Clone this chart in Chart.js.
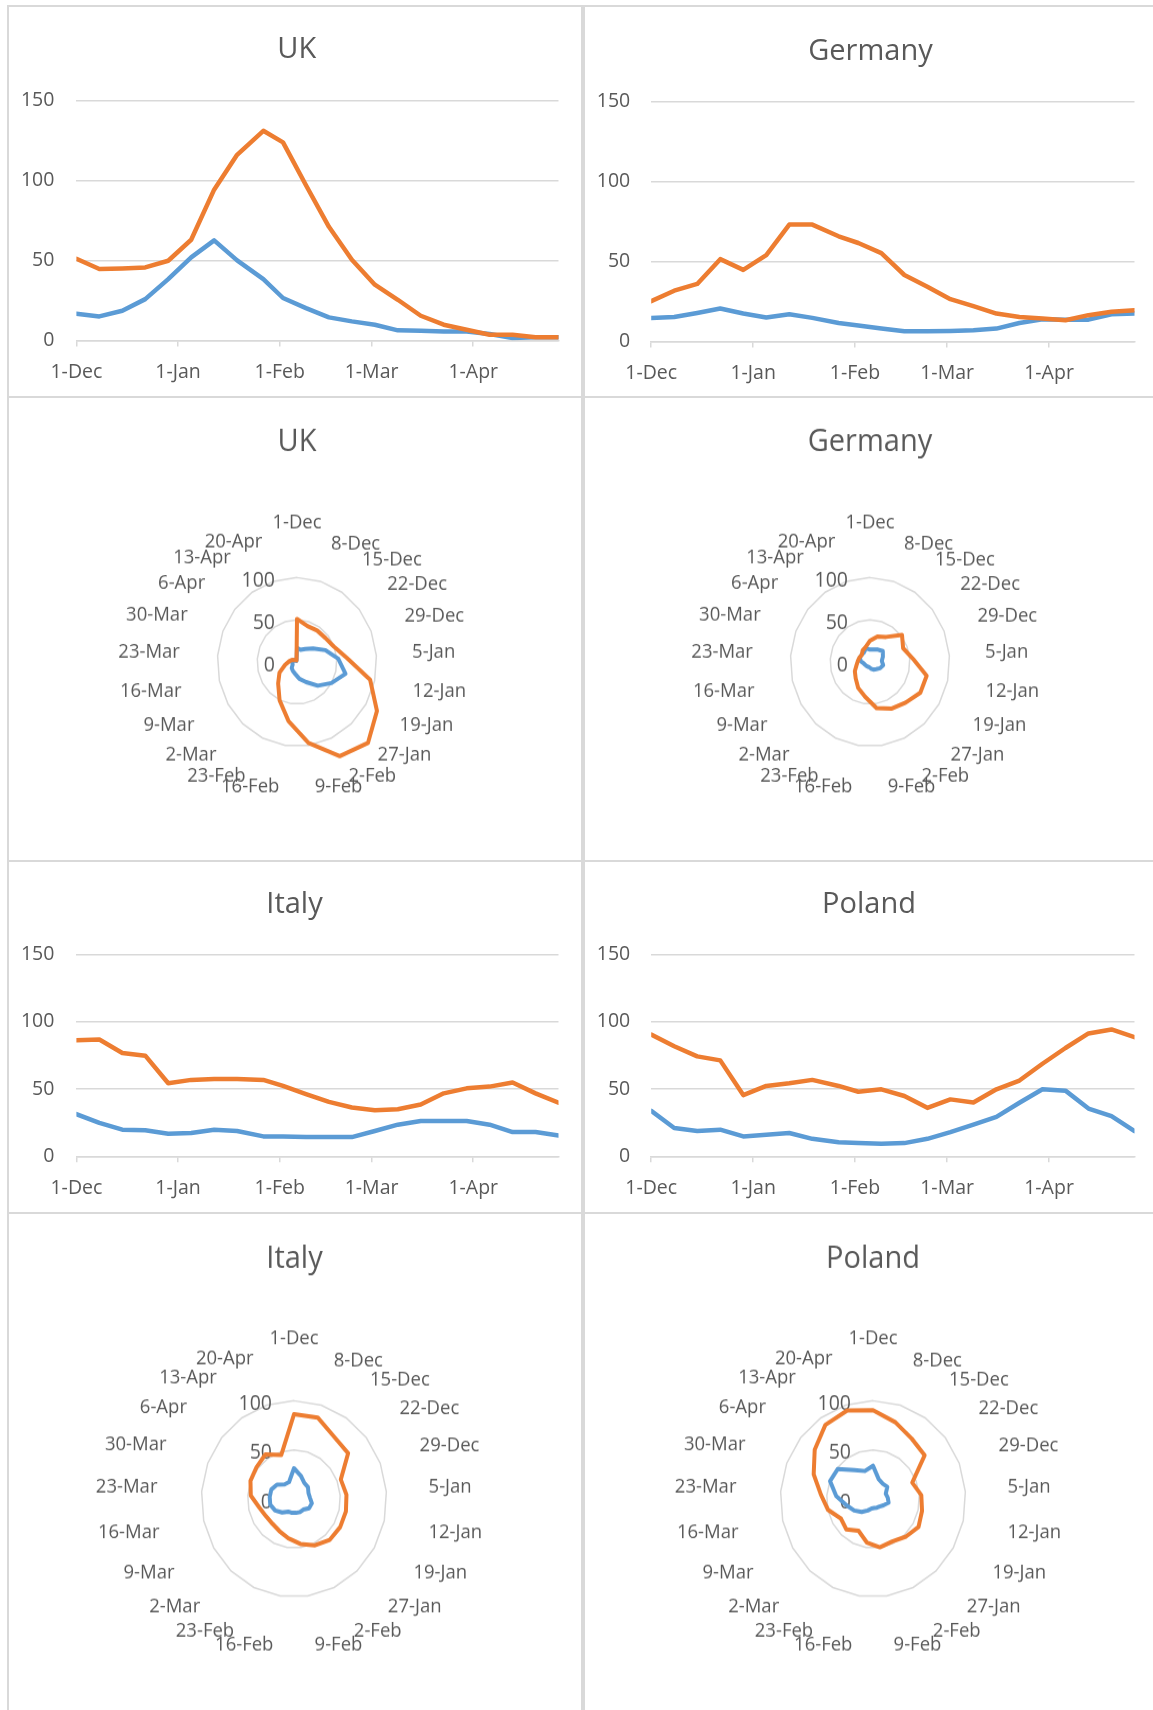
<!DOCTYPE html>
<html>
<head>
<meta charset="utf-8">
<title>UK, Germany, Italy, Poland - weekly lines and radars</title>
<script src="https://cdn.jsdelivr.net/npm/chart.js@4.4.1/dist/chart.umd.min.js"></script>
<style>
  html, body { margin: 0; padding: 0; background: #fff; }
  body { width: 1153px; height: 1710px; position: relative; overflow: hidden; }
  .panel { position: absolute; }
  .panel canvas { position: absolute; left: 0; top: 0; }
  .panel .frame { position: absolute; left: 0; top: 0; right: 0; bottom: 0; border: 2px solid #d9d9d9; pointer-events: none; }
</style>
</head>
<body>
<div class="panel" id="p-ukLine"><canvas id="ukLine"></canvas><div class="frame"></div></div>
<div class="panel" id="p-deLine"><canvas id="deLine"></canvas><div class="frame"></div></div>
<div class="panel" id="p-ukRadar"><canvas id="ukRadar"></canvas><div class="frame"></div></div>
<div class="panel" id="p-deRadar"><canvas id="deRadar"></canvas><div class="frame"></div></div>
<div class="panel" id="p-itLine"><canvas id="itLine"></canvas><div class="frame"></div></div>
<div class="panel" id="p-plLine"><canvas id="plLine"></canvas><div class="frame"></div></div>
<div class="panel" id="p-itRadar"><canvas id="itRadar"></canvas><div class="frame"></div></div>
<div class="panel" id="p-plRadar"><canvas id="plRadar"></canvas><div class="frame"></div></div>

<script>
// Weekly dates (days counted from 1-Dec)
const weekLabels = ["1-Dec", "8-Dec", "15-Dec", "22-Dec", "29-Dec", "5-Jan", "12-Jan", "19-Jan", "27-Jan", "2-Feb", "9-Feb",
  "16-Feb", "23-Feb", "2-Mar", "9-Mar", "16-Mar", "23-Mar", "30-Mar", "6-Apr", "13-Apr", "20-Apr", "27-Apr"];
const weekDays = [0, 7, 14, 21, 28, 35, 42, 49, 57, 63, 70, 77, 84, 91, 98, 105, 112, 119, 126, 133, 140, 147];

// Date axis ticks of the line charts
const monthTickDays = [0, 31, 62, 90, 121];
const monthTickLabels = ["1-Dec", "1-Jan", "1-Feb", "1-Mar", "1-Apr"];

// Radar categories
const radarLabels = ["1-Dec", "8-Dec", "15-Dec", "22-Dec", "29-Dec", "5-Jan", "12-Jan", "19-Jan", "27-Jan", "2-Feb", "9-Feb",
  "16-Feb", "23-Feb", "2-Mar", "9-Mar", "16-Mar", "23-Mar", "30-Mar", "6-Apr", "13-Apr", "20-Apr"];
const radarTickValues = [0, 50, 100];

// Series values
const ukBlue = [16.7, 15.0, 18.5, 25.8, 38.3, 51.9, 62.5, 50.0, 38.3, 26.5, 20.2, 14.4, 11.9, 9.8, 6.3, 6.0, 5.6, 5.6, 4.0, 1.5, 2.0, 2.0];
const ukOrange = [51.0, 44.6, 45.0, 45.6, 49.8, 62.9, 94.2, 116.0, 131.0, 123.8, 97.0, 71.0, 50.4, 34.8, 25.4, 15.4, 9.8, 6.7, 3.5, 3.5, 2.0, 1.9];

const deBlue = [14.7, 15.3, 17.8, 20.6, 17.4, 14.9, 17.0, 14.7, 11.5, 10.0, 8.0, 6.3, 6.3, 6.5, 6.9, 8.0, 11.5, 13.8, 13.6, 13.6, 17.0, 17.4];
const deOrange = [25.2, 31.7, 35.9, 51.4, 44.7, 53.9, 73.0, 73.0, 65.7, 61.5, 55.2, 41.5, 34.2, 26.4, 22.0, 17.4, 15.3, 14.3, 13.2, 16.4, 18.5, 19.5];

const itBlue = [31.3, 24.8, 19.8, 19.3, 16.8, 17.3, 19.8, 18.8, 14.8, 14.8, 14.3, 14.3, 14.3, 18.8, 23.5, 26.3, 26.3, 26.3, 23.5, 18.0, 18.0, 15.5];
const itOrange = [86.3, 86.8, 76.8, 74.8, 54.3, 56.8, 57.5, 57.5, 56.8, 52.3, 46.3, 40.5, 36.3, 34.3, 35.0, 38.5, 46.8, 50.5, 51.8, 54.8, 46.8, 39.8];

const plBlue = [33.8, 21.0, 18.8, 19.8, 14.8, 16.0, 17.3, 13.0, 10.5, 9.8, 9.3, 9.8, 13.0, 18.0, 23.5, 29.3, 39.8, 49.8, 48.8, 35.5, 29.8, 18.8];
const plOrange = [90.5, 81.8, 74.3, 71.3, 45.5, 52.3, 54.3, 56.8, 52.3, 48.0, 49.8, 44.8, 36.0, 42.3, 40.0, 49.8, 56.3, 68.8, 80.5, 91.3, 94.3, 88.5];

const BLUE = "#5B9BD5";
const ORANGE = "#ED7D31";
const TEXT = "#595959";
const GRID = "#d9d9d9";
const FONT = '"Open Sans", "DejaVu Sans", sans-serif';
const TITLE_SIZE = 29;
const TICK_SIZE = 19.5;
const POINT_LABEL_SIZE = 18.5;
const RADAR_STRETCH = 1.06;   // the radars are a little taller than wide
const TOP_LABEL_PAD = 11;

Chart.defaults.font.family = FONT;
Chart.defaults.color = TEXT;

// Title drawn at a fixed spot of the panel
const panelTitle = {
  id: "panelTitle",
  afterDraw(chart, args, opts) {
    if (!opts || !opts.text) return;
    const ctx = chart.ctx;
    ctx.save();
    ctx.fillStyle = TEXT;
    ctx.font = TITLE_SIZE + "px " + FONT;
    ctx.textAlign = "center";
    ctx.textBaseline = "middle";
    ctx.fillText(opts.text, opts.x, opts.y);
    ctx.restore();
  }
};
Chart.register(panelTitle);

function placePanel(id, box) {
  const p = document.getElementById("p-" + id);
  p.style.left = box.x + "px";
  p.style.top = box.y + "px";
  p.style.width = box.w + "px";
  p.style.height = box.h + "px";
  const c = document.getElementById(id);
  c.width = box.w;
  c.height = box.h;
  return c;
}

// Line chart on a day-number axis
function drawLineChart(id, box, title, blue, orange, area) {
  const canvas = placePanel(id, box);

  new Chart(canvas, {
    type: "line",
    data: {
      datasets: [
        { label: "Series 1", data: blue.map((v, i) => ({ x: weekDays[i], y: v })), borderColor: BLUE, order: 1 },
        { label: "Series 2", data: orange.map((v, i) => ({ x: weekDays[i], y: v })), borderColor: ORANGE, order: 0 }
      ]
    },
    options: {
      responsive: false,
      animation: false,
      layout: { padding: { left: 0, right: box.w - area.right, top: area.top, bottom: 0 } },
      elements: {
        point: { radius: 0 },
        line: { borderWidth: 4.5, tension: 0, fill: false, borderJoinStyle: "round", borderCapStyle: "round" }
      },
      plugins: {
        legend: { display: false },
        tooltip: { enabled: false },
        title: { display: false },
        panelTitle: { text: title, x: area.titleX, y: area.titleY }
      },
      scales: {
        x: {
          type: "linear",
          min: weekDays[0],
          max: weekDays[weekDays.length - 1],
          afterBuildTicks: axis => { axis.ticks = monthTickDays.map(v => ({ value: v })); },
          afterFit: axis => { axis.height = box.h - area.bottom; },
          ticks: {
            autoSkip: false,
            maxRotation: 0,
            padding: 14,
            font: { size: TICK_SIZE },
            callback: (v, i) => monthTickLabels[i]
          },
          grid: { drawOnChartArea: false, drawTicks: true, tickLength: 6, color: GRID, lineWidth: 1.5 },
          border: { display: true, color: GRID, width: 1.5 }
        },
        y: {
          min: 0,
          max: 150,
          afterFit: axis => { axis.width = area.left; },
          ticks: { stepSize: 50, padding: area.gap, font: { size: TICK_SIZE } },
          grid: { color: GRID, lineWidth: 1.5, drawTicks: false },
          border: { display: false }
        }
      }
    }
  });
}

// Radar axis values, drawn to the left of the vertical spoke
const radarAxisLabels = {
  id: "radarAxisLabels",
  beforeDatasetsDraw(chart) {
    const scale = chart.scales.r;
    const ctx = chart.ctx;
    ctx.save();
    ctx.fillStyle = TEXT;
    ctx.font = TICK_SIZE + "px " + FONT;
    ctx.textAlign = "right";
    ctx.textBaseline = "middle";
    radarTickValues.forEach(v => {
      const d = scale.getDistanceFromCenterForValue(v);
      ctx.fillText(String(v), scale.xCenter - 22, scale.yCenter - d + 3);
    });
    ctx.restore();
  }
};

// distance of a category label from the outer ring, by its place round the circle
function pointLabelPad(index, count) {
  if (index === 0) return TOP_LABEL_PAD;
  const angle = index * 360 / count;
  if (angle > 90 && angle < 270) return -1;
  if (angle >= 270) return -2;
  return -4;
}

function drawRadarChart(id, box, title, blue, orange, geo) {
  const canvas = placePanel(id, box);
  const k = RADAR_STRETCH;
  canvas.style.transformOrigin = "0 " + geo.cy + "px";
  canvas.style.transform = "scaleY(" + k + ")";

  // point labels are nearly centred on their spot (tiny line height)
  const labelLine = 0.1;
  const m = TOP_LABEL_PAD + labelLine * POINT_LABEL_SIZE;
  const areaTop = geo.cy - geo.radius - 1.5 * m;
  const areaBottom = geo.cy + geo.radius + 0.5 * m;
  const padL = Math.max(0, 2 * geo.cx - box.w);
  const padR = Math.max(0, box.w - 2 * geo.cx);
  const n = radarLabels.length;

  new Chart(canvas, {
    type: "radar",
    data: {
      labels: radarLabels,
      datasets: [
        { label: "Series 1", data: blue.slice(0, n), borderColor: BLUE, order: 1 },
        { label: "Series 2", data: orange.slice(0, n), borderColor: ORANGE, order: 0 }
      ]
    },
    options: {
      responsive: false,
      animation: false,
      layout: { padding: { left: padL, right: padR, top: areaTop, bottom: box.h - areaBottom } },
      elements: {
        point: { radius: 0 },
        line: { borderWidth: 4, tension: 0, fill: false, borderJoinStyle: "round" }
      },
      plugins: {
        legend: { display: false },
        tooltip: { enabled: false },
        title: { display: false },
        panelTitle: { text: title, x: geo.cx, y: geo.cy - (geo.cy - geo.titleY) / k }
      },
      scales: {
        r: {
          min: 0,
          max: 150,
          ticks: { stepSize: 50, display: false },
          angleLines: { display: false },
          grid: {
            color: c => (c.tick && c.tick.value >= 150 ? "rgba(0,0,0,0)" : GRID),
            lineWidth: 1.5
          },
          pointLabels: {
            color: TEXT,
            padding: c => pointLabelPad(c.index, n),
            font: { size: POINT_LABEL_SIZE, lineHeight: labelLine }
          }
        }
      }
    },
    plugins: [radarAxisLabels]
  });
}

drawLineChart("ukLine", { x: 7, y: 5, w: 576, h: 393 }, "UK", ukBlue, ukOrange,
  { left: 69.4, top: 95.4, right: 551.5, bottom: 335.4, titleX: 289.7, titleY: 45.2, gap: 22 });
drawLineChart("deLine", { x: 583, y: 5, w: 576, h: 393 }, "Germany", deBlue, deOrange,
  { left: 68.2, top: 96.4, right: 551.5, bottom: 336.4, titleX: 287.5, titleY: 47.2, gap: 21 });

drawRadarChart("ukRadar", { x: 7, y: 396, w: 576, h: 466 }, "UK", ukBlue, ukOrange,
  { cx: 290, cy: 267, radius: 120, titleY: 45.8 });
drawRadarChart("deRadar", { x: 583, y: 396, w: 576, h: 466 }, "Germany", deBlue, deOrange,
  { cx: 287, cy: 267, radius: 120, titleY: 45.8 });

drawLineChart("itLine", { x: 7, y: 860, w: 576, h: 354 }, "Italy", itBlue, itOrange,
  { left: 69.4, top: 94.5, right: 551.5, bottom: 296.3, titleX: 287.5, titleY: 45.2, gap: 22 });
drawLineChart("plLine", { x: 583, y: 860, w: 576, h: 354 }, "Poland", plBlue, plOrange,
  { left: 68.2, top: 94.5, right: 551.5, bottom: 296.3, titleX: 286, titleY: 45.2, gap: 21 });

drawRadarChart("itRadar", { x: 7, y: 1212, w: 576, h: 510 }, "Italy", itBlue, itOrange,
  { cx: 287.5, cy: 288, radius: 139.5, titleY: 46.8 });
drawRadarChart("plRadar", { x: 583, y: 1212, w: 576, h: 510 }, "Poland", plBlue, plOrange,
  { cx: 290, cy: 288, radius: 139.5, titleY: 46.8 });
</script>
</body>
</html>
